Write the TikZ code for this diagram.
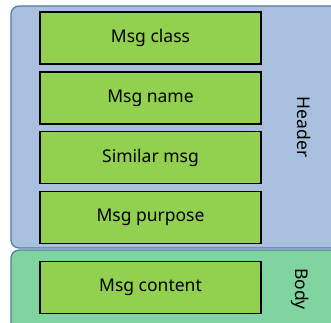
\documentclass[tikz,border=0pt]{standalone}
\usepackage{fontspec}
\setmainfont{Noto Sans}
\definecolor{hdrfill}{RGB}{168,192,222}
\definecolor{hdrline}{RGB}{80,120,165}
\definecolor{bodyfill}{RGB}{128,212,160}
\definecolor{boxfill}{RGB}{146,208,80}
\tikzset{
  field/.style={draw=black, line width=1.3pt, fill=boxfill, minimum width=221pt, minimum height=52pt, inner sep=0pt, font=\fontsize{17.5}{20}\selectfont},
  section/.style={draw=hdrline, line width=1.2pt, rounded corners=8pt},
  sectlabel/.style={rotate=-90, font=\fontsize{17.5}{20}\selectfont}
}
\begin{document}
\begin{tikzpicture}[x=1pt,y=1pt]
\useasboundingbox (0,0) rectangle (331,-322);
\clip (0,0) rectangle (331,-322);
\fill[white] (0,0) rectangle (331,-322);
\draw[section, fill=hdrfill] (11,-6) rectangle (345,-248);
\draw[section, fill=bodyfill] (11,-250) rectangle (345,-335);
\node[field] (cls) at (150.5,-38) {Msg class};
\node[field] (name) at (150.5,-98) {Msg name};
\node[field] (sim) at (150.5,-157.5) {Similar msg};
\node[field] (purp) at (150.5,-217.5) {Msg purpose};
\node[field] (cont) at (150.5,-287.5) {Msg content};
\node[sectlabel] (hdr) at (304,-127) {Header};
\node[sectlabel] (body) at (300,-289) {Body};
\end{tikzpicture}
\end{document}
